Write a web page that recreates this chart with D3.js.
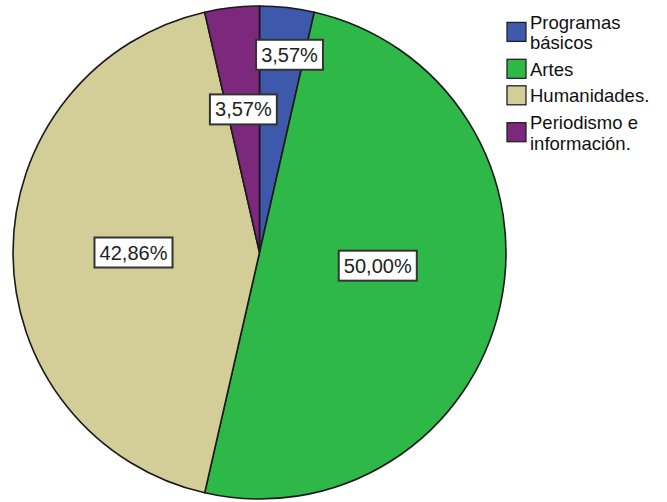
<!DOCTYPE html>
<html>
<head>
<meta charset="utf-8">
<script src="https://cdn.jsdelivr.net/npm/d3@7/dist/d3.min.js"></script>
<style>
  html, body { margin: 0; padding: 0; background: #fff; }
  svg { display: block; }
  text { font-family: "Liberation Sans", Arial, sans-serif; }
</style>
</head>
<body>
<svg id="chart" width="667" height="502"></svg>
<script>
// ---- data ----
const categories = ["Programas básicos", "Artes", "Humanidades.", "Periodismo e información."];
const legendLines = [["Programas", "básicos"], ["Artes"], ["Humanidades."], ["Periodismo e", "información."]];
const percentages = [3.57, 50.00, 42.86, 3.57];
const colors = ["#3E58AC", "#2EB848", "#D3CE97", "#7C287D"];

// ---- label placement tuning (radius in px, angle nudge in degrees) ----
const labelRadius = [200, 119, 126, 144];
const labelAngleNudge = [2.2, -6.5, 0, 0];

const W = 667, H = 502;
const cx = 259.5, cy = 252.5, R = 246.5;
const svg = d3.select("#chart");
const g = svg.append("g").attr("transform", `translate(${cx},${cy})`);

const pie = d3.pie().sort(null).value(d => d).startAngle(0).endAngle(2 * Math.PI);
const arcs = pie(percentages);
const arc = d3.arc().innerRadius(0).outerRadius(R);

g.selectAll("path.slice")
  .data(arcs)
  .join("path")
  .attr("class", "slice")
  .attr("d", arc)
  .attr("fill", (d, i) => colors[i])
  .attr("stroke", "#1a1a1a")
  .attr("stroke-width", 1.6)
  .attr("stroke-linejoin", "round");

const fmt = v => d3.format(".2f")(v).replace(".", ",") + "%";
const fontSize = 20;

const labels = g.selectAll("g.lab")
  .data(arcs)
  .join("g")
  .attr("class", "lab")
  .attr("transform", (d, i) => {
    const a = (d.startAngle + d.endAngle) / 2 + labelAngleNudge[i] * Math.PI / 180;
    const r = labelRadius[i];
    return `translate(${r * Math.sin(a)},${-r * Math.cos(a)})`;
  });

labels.each(function(d, i) {
  const sel = d3.select(this);
  const t = sel.append("text")
    .attr("text-anchor", "middle")
    .attr("dominant-baseline", "central")
    .attr("font-size", fontSize)
    .attr("fill", "#222")
    .text(fmt(percentages[i]));
  const bb = t.node().getBBox();
  const padX = 5, h = 30;
  sel.insert("rect", "text")
    .attr("x", -bb.width / 2 - padX)
    .attr("y", -h / 2)
    .attr("width", bb.width + 2 * padX)
    .attr("height", h)
    .attr("fill", "#fff")
    .attr("stroke", "#333")
    .attr("stroke-width", 2);
});

// ---- legend ----
const legend = svg.append("g");
const lx = 507, sw = 19, textX = 530, lineH = 20.8, itemGap = 26.5, legendFont = 18.5;
let baseline = 28.5;
legendLines.forEach((lines, i) => {
  const first = baseline, last = baseline + (lines.length - 1) * lineH;
  const swCenter = (first + last) / 2 - 7;
  legend.append("rect")
    .attr("x", lx).attr("y", swCenter - sw / 2)
    .attr("width", sw).attr("height", sw)
    .attr("fill", colors[i])
    .attr("stroke", "#222").attr("stroke-width", 1.3);
  const t = legend.append("text")
    .attr("x", textX).attr("y", first)
    .attr("font-size", legendFont)
    .attr("fill", "#111");
  lines.forEach((ln, j) => {
    t.append("tspan")
      .attr("x", textX)
      .attr("dy", j === 0 ? 0 : lineH)
      .text(ln);
  });
  baseline = last + itemGap;
});
</script>
</body>
</html>
